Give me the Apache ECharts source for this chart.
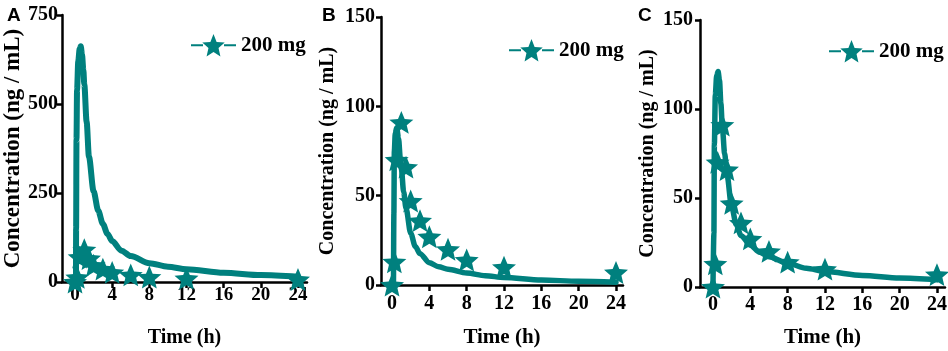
<!DOCTYPE html>
<html>
<head>
<meta charset="utf-8">
<script src="https://cdn.jsdelivr.net/npm/echarts@6/dist/echarts.min.js"></script>
<style>html,body{margin:0;padding:0;background:#fff}#c{width:948px;height:351px}</style>
</head>
<body>
<div id="c"></div>
<script>
// ---- data ----
const xTicks = [0, 4, 8, 12, 16, 20, 24];
const obsTime = [0, 0.25, 0.5, 1, 1.5, 2, 3, 4, 6, 8, 12, 24];
const obsConc = [0, 13, 70, 91, 66, 47, 36, 27, 20, 14, 10, 7];

const timeA = [0, 0.1, 0.12, 0.16, 0.22, 0.35, 0.5, 0.62, 0.75, 0.9, 1.0, 1.25, 1.5, 2, 2.5, 3, 3.5, 4, 5, 6, 8, 10, 12, 16, 20, 24];
const predA = [0, 0, 150, 400, 540, 620, 655, 662, 640, 595, 555, 450, 352, 255, 200, 163, 135, 115, 88, 73, 53, 43, 36, 26, 19.5, 14.5];

const timeB = [0, 0.15, 0.2, 0.25, 0.35, 0.5, 0.7, 0.9, 1.0, 1.25, 1.5, 2, 2.5, 3, 4, 5, 6, 8, 10, 12, 16, 20, 24];
const predB = [0, 0, 40, 75, 85, 88, 82, 70, 65, 52, 43, 29, 21.5, 17.5, 12.5, 10.2, 8.8, 6.7, 5.2, 4.2, 2.8, 2.1, 1.6];

const timeC = [0, 0.05, 0.1, 0.15, 0.25, 0.4, 0.55, 0.7, 0.85, 1, 1.25, 1.5, 2, 2.5, 3, 4, 5, 6, 8, 10, 12, 16, 20, 24];
const predC = [0, 0, 30, 80, 108, 119, 121, 116, 103, 90, 75, 63, 45, 35, 29, 23.5, 19.5, 17, 13.4, 10.5, 8.7, 6.5, 5, 4];

const panelLetters = ['A', 'B', 'C'];
const legendName = '200 mg';
const yAxisTitle = 'Concentration (ng / mL)';
const xAxisTitle = 'Time (h)';

// ---- styling ----
const COLOR = '#00807e';
const SERIF = 'Liberation Serif';
const STAR = 'path://M50 0 L63.23 31.80 L97.55 34.55 L71.40 56.95 L79.39 90.45 L50 72.5 L20.61 90.45 L28.60 56.95 L2.45 34.55 L36.77 31.80 Z';
const pair = (ts, vs) => ts.map((t, i) => [t, vs[i]]);

const panels = [
  {grid: {left: 62, top: 15, width: 245, height: 267}, xmin: -1.4, xmax: 24.97, ymax: 750, yint: 250,
   pred: pair(timeA, predA), ynameGap: 37, yNameSize: 23, xNameSize: 20, xNameGap: 46, xLabSize: 19, xLabMargin: 4, yLabMargin: 4,
   legend: {left: 185, top: 29}, letterLeft: 2, lw: 6},
  {grid: {left: 381, top: 17, width: 242, height: 268}, xmin: -1.18, xmax: 24.75, ymax: 150, yint: 50,
   pred: pair(timeB, predB), ynameGap: 43, yNameSize: 20, xNameSize: 21, xNameGap: 42, xLabSize: 20, xLabMargin: 9, yLabMargin: 6,
   legend: {left: 503, top: 34}, letterLeft: 317, lw: 5.5},
  {grid: {left: 700, top: 20, width: 245, height: 267}, xmin: -1.39, xmax: 24.86, ymax: 150, yint: 50,
   pred: pair(timeC, predC), ynameGap: 42, yNameSize: 20, xNameSize: 21, xNameGap: 40, xLabSize: 20, xLabMargin: 8, yLabMargin: 7,
   legend: {left: 823, top: 35}, letterLeft: 633, lw: 5.5}
];

const axisLine = {show: true, onZero: false, lineStyle: {color: '#000', width: 2.5}};
const option = {
  animation: false,
  backgroundColor: '#fff',
  title: panels.map((p, i) => ({text: panelLetters[i], left: p.letterLeft, top: 1,
    textStyle: {fontFamily: 'Liberation Sans', fontWeight: 'bold', fontSize: 19, color: '#000'}})),
  grid: panels.map(p => Object.assign({outerBoundsMode: 'none', containLabel: false}, p.grid)),
  legend: panels.map(p => ({
    left: p.legend.left, top: p.legend.top, orient: 'horizontal', data: [legendName],
    itemWidth: 45, itemHeight: 28, selectedMode: false,
    textStyle: {fontFamily: SERIF, fontWeight: 'bold', fontSize: 21, color: '#000', padding: [12, 0, 0, 0]}
  })),
  xAxis: panels.map((p, i) => ({
    type: 'value', gridIndex: i, min: p.xmin, max: p.xmax,
    name: xAxisTitle, nameLocation: 'middle', nameGap: p.xNameGap,
    nameTextStyle: {fontFamily: SERIF, fontWeight: 'bold', fontSize: p.xNameSize, color: '#000'},
    axisLine: axisLine,
    axisTick: {show: true, length: 6, lineStyle: {color: '#000', width: 2.5}, customValues: xTicks},
    axisLabel: {fontFamily: SERIF, fontWeight: 'bold', fontSize: p.xLabSize, color: '#000', margin: p.xLabMargin, customValues: xTicks},
    splitLine: {show: false}
  })),
  yAxis: panels.map((p, i) => ({
    type: 'value', gridIndex: i, min: 0, max: p.ymax, interval: p.yint,
    name: yAxisTitle, nameLocation: 'middle', nameGap: p.ynameGap,
    nameTextStyle: {fontFamily: SERIF, fontWeight: 'bold', fontSize: p.yNameSize, color: '#000'},
    axisLine: axisLine,
    axisTick: {show: true, length: 5, lineStyle: {color: '#000', width: 2.5}},
    axisLabel: {fontFamily: SERIF, fontWeight: 'bold', fontSize: 20, color: '#000', margin: p.yLabMargin},
    splitLine: {show: false}
  })),
  series: []
};

panels.forEach((p, i) => {
  option.series.push({
    name: 'pred' + i, type: 'line', xAxisIndex: i, yAxisIndex: i, data: p.pred,
    showSymbol: false, symbol: 'none', smooth: 0.3, smoothMonotone: 'x',
    lineStyle: {color: COLOR, width: p.lw, cap: 'round', join: 'round'}, z: 2
  });
  option.series.push({
    name: 'obs' + i, type: 'scatter', xAxisIndex: i, yAxisIndex: i, data: pair(obsTime, obsConc),
    symbol: STAR, symbolSize: 24, symbolKeepAspect: true,
    itemStyle: {color: COLOR, opacity: 1}, z: 3
  });
  option.series.push({
    name: legendName, type: 'line', xAxisIndex: i, yAxisIndex: i, data: [],
    symbol: STAR, symbolSize: 18, symbolKeepAspect: true,
    itemStyle: {color: COLOR}, lineStyle: {color: COLOR, width: 3.5, type: [12, 21]}
  });
});

const chart = echarts.init(document.getElementById('c'), null, {renderer: 'canvas'});
chart.setOption(option);
</script>
</body>
</html>
